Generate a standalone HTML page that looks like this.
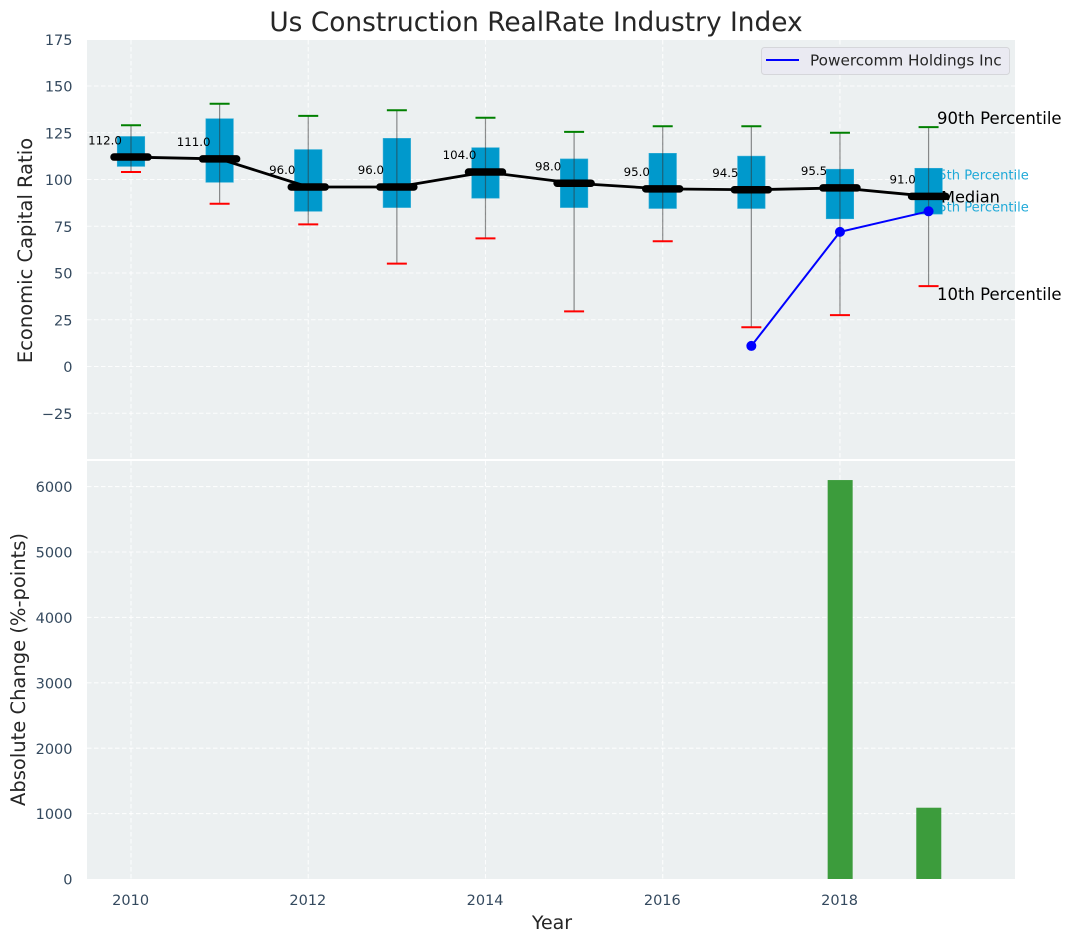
<!DOCTYPE html>
<html lang="en">
<head>
<meta charset="utf-8">
<title>Us Construction RealRate Industry Index</title>
<style>
html,body{margin:0;padding:0;background:#fff;}
body{width:1072px;height:942px;overflow:hidden;}
svg{display:block;font-family:"DejaVu Sans","Liberation Sans",sans-serif;}
</style>
</head>
<body>
<svg id="chart" width="1072" height="942" viewBox="0 0 1072 942" xmlns="http://www.w3.org/2000/svg"></svg>
<script>
const years = [2010, 2011, 2012, 2013, 2014, 2015, 2016, 2017, 2018, 2019];
const p90 = [129, 140.5, 134, 137, 133, 125.5, 128.5, 128.5, 125, 128];
const p75 = [123, 132.5, 116, 122, 117, 111, 114, 112.5, 105.5, 106];
const medians = [112, 111, 96, 96, 104, 98, 95, 94.5, 95.5, 91];
const p25 = [107, 98.5, 83, 85, 90, 85, 84.5, 84.5, 79, 81.5];
const p10 = [104, 87, 76, 55, 68.5, 29.5, 67, 21, 27.5, 43];
const companyYears = [2017, 2018, 2019];
const companyValues = [11, 72, 83];
const changeYears = [2018, 2019];
const changeValues = [6100, 1090];
const xTicks = [2010, 2012, 2014, 2016, 2018];
const yTicksTop = [-25, 0, 25, 50, 75, 100, 125, 150, 175];
const yTicksBottom = [0, 1000, 2000, 3000, 4000, 5000, 6000];

const svg = document.getElementById('chart');
const NS = 'http://www.w3.org/2000/svg';
const L = 87, R = 1015, T1 = 40, B1 = 459, T2 = 461, B2 = 879;
const X = v => 131 + (v - 2010) * 88.62;
const Y1 = v => 366.5 - v * 1.87;
const Y2 = v => 879 - v * 0.0654;
const INK = '#34495e';

function el(tag, attrs, text) {
  const e = document.createElementNS(NS, tag);
  for (const k in attrs) e.setAttribute(k, attrs[k]);
  if (text !== undefined) e.textContent = text;
  svg.appendChild(e);
  return e;
}
function fmt(v) { return v < 0 ? '\u2212' + Math.abs(v) : String(v); }

let n;
n = el('rect', {x: L, y: T1, width: R - L, height: B1 - T1, fill: '#ecf0f1'});


n = el('rect', {x: L, y: T2, width: R - L, height: B2 - T2, fill: '#ecf0f1'});



const gridStyle = {stroke: '#fff', 'stroke-width': 1.1, 'stroke-dasharray': '4.5 2.5', 'stroke-opacity': 0.85};
yTicksTop.forEach(v => {
  if (v === 175) return;
  n = el('line', Object.assign({x1: L, x2: R, y1: Y1(v), y2: Y1(v)}, gridStyle));
  
  
});
yTicksBottom.forEach(v => {
  if (v === 0) return;
  n = el('line', Object.assign({x1: L, x2: R, y1: Y2(v), y2: Y2(v)}, gridStyle));
  
  
});
xTicks.forEach(v => {
  n = el('line', Object.assign({x1: X(v), x2: X(v), y1: T1, y2: B1}, gridStyle));
  
  
  n = el('line', Object.assign({x1: X(v), x2: X(v), y1: T2, y2: B2}, gridStyle));
  
  
});

yTicksTop.forEach(v => {
  n = el('text', {x: 72.5, y: Y1(v) + 5.6, 'text-anchor': 'end', 'font-size': 14.5, fill: INK}, fmt(v));
  
  
});
yTicksBottom.forEach(v => {
  n = el('text', {x: 72.5, y: Y2(v) + 5.6, 'text-anchor': 'end', 'font-size': 14.5, fill: INK}, fmt(v));
  
  
});
xTicks.forEach(v => {
  n = el('text', {x: X(v) - 0.4, y: 905, 'text-anchor': 'middle', 'font-size': 14.5, fill: INK}, String(v));
  
  
});

const last = years.length - 1;
n = el('text', {x: 930, y: Y1(p75[last]) + 11, 'font-size': 13.1, fill: '#1ea9d8'}, '75th Percentile');


n = el('text', {x: 930, y: Y1(p25[last]) - 2.5, 'font-size': 13.1, fill: '#1ea9d8'}, '25th Percentile');



years.forEach((yr, i) => {
  const cx = X(yr);
  n = el('rect', {x: cx - 13.75, y: Y1(p75[i]), width: 27.5, height: Y1(p25[i]) - Y1(p75[i]), fill: '#0099cc', stroke: '#33add6', 'stroke-width': 0.6});
  
  
  n = el('line', {x1: cx, x2: cx, y1: Y1(p90[i]), y2: Y1(p10[i]), stroke: '#333', 'stroke-opacity': 0.55, 'stroke-width': 1.2});
  
  
  n = el('line', {x1: cx - 10, x2: cx + 10, y1: Y1(p90[i]), y2: Y1(p90[i]), stroke: '#008000', 'stroke-width': 2});
  
  
  n = el('line', {x1: cx - 10, x2: cx + 10, y1: Y1(p10[i]), y2: Y1(p10[i]), stroke: '#ff0000', 'stroke-width': 2});
  
  
});

n = el('polyline', {points: years.map((yr, i) => X(yr) + ',' + Y1(medians[i])).join(' '), fill: 'none', stroke: '#000', 'stroke-width': 2.8, 'stroke-linejoin': 'round'});


years.forEach((yr, i) => {
  const cx = X(yr), cy = Y1(medians[i]);
  n = el('line', {x1: cx - 17, x2: cx + 17, y1: cy, y2: cy, stroke: '#000', 'stroke-width': 7.5, 'stroke-linecap': 'round'});
  
  
  n = el('text', {x: cx - 26, y: cy - 12.8, 'text-anchor': 'middle', 'font-size': 11.8, fill: '#000'}, medians[i].toFixed(1));
  
  
});

n = el('polyline', {points: companyYears.map((yr, i) => X(yr) + ',' + Y1(companyValues[i])).join(' '), fill: 'none', stroke: '#0000ff', 'stroke-width': 2});


companyYears.forEach((yr, i) => {
  n = el('circle', {cx: X(yr), cy: Y1(companyValues[i]), r: 5, fill: '#0000ff'});
  
  
});

n = el('text', {x: 937, y: Y1(p90[last]) - 3, 'font-size': 16.5, fill: '#000'}, '90th Percentile');


n = el('text', {x: 941, y: Y1(medians[last]) + 6, 'font-size': 16.2, fill: '#000'}, 'Median');


n = el('text', {x: 937, y: Y1(p10[last]) + 14, 'font-size': 16.5, fill: '#000'}, '10th Percentile');



changeYears.forEach((yr, i) => {
  const x0 = X(yr) - 12.3, top = Y2(changeValues[i]);
  n = el('rect', {x: x0, y: top, width: 25, height: B2 - top, fill: '#3c9c3c'});
  
  
});

n = el('rect', {x: 761.5, y: 47.5, width: 248, height: 27, rx: 3, fill: '#eaeaf2', stroke: '#d5d6da', 'stroke-width': 1});


n = el('line', {x1: 766, x2: 799, y1: 60, y2: 60, stroke: '#0000ff', 'stroke-width': 2});


n = el('text', {x: 810, y: 65.5, 'font-size': 15.25, fill: '#262626'}, 'Powercomm Holdings Inc');



n = el('text', {x: 536, y: 31, 'text-anchor': 'middle', 'font-size': 26.4, fill: '#262626'}, 'Us Construction RealRate Industry Index');


n = el('text', {transform: 'translate(32,250.5) rotate(-90)', 'text-anchor': 'middle', 'font-size': 19.5, fill: '#262626'}, 'Economic Capital Ratio');


n = el('text', {transform: 'translate(25,669.5) rotate(-90)', 'text-anchor': 'middle', 'font-size': 19.5, fill: '#262626'}, 'Absolute Change (%-points)');


n = el('text', {x: 552, y: 929, 'text-anchor': 'middle', 'font-size': 19, fill: '#262626'}, 'Year');


</script>
</body>
</html>
